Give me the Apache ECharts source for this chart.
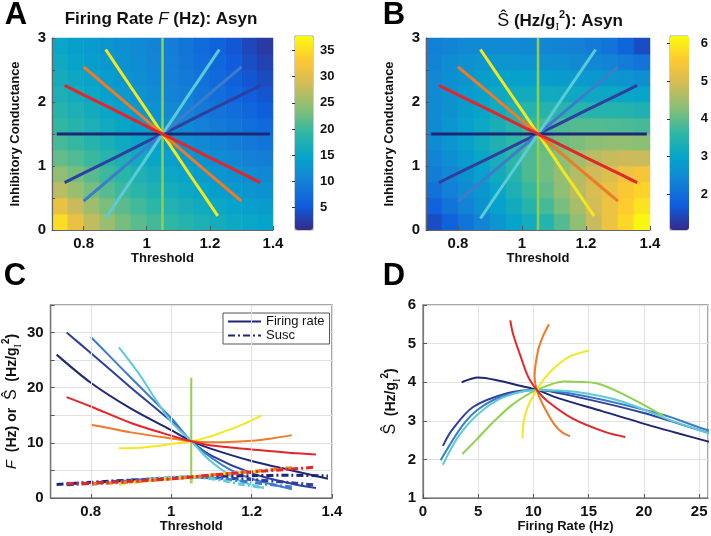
<!DOCTYPE html>
<html><head><meta charset="utf-8">
<script src="https://cdn.jsdelivr.net/npm/echarts@6/dist/echarts.min.js"></script>
<style>html,body{margin:0;padding:0;background:#fff}#c{width:711px;height:536px}</style>
</head><body><div id="c"></div>
<script>
// ---------- heatmap cells ----------
const thetaCells = [0.725,0.775,0.825,0.875,0.925,0.975,1.025,1.075,1.125,1.175,1.225,1.275,1.325,1.375];
const gCells = [0.125,0.375,0.625,0.875,1.125,1.375,1.625,1.875,2.125,2.375,2.625,2.875];
// rows from g=0.125 (bottom) to g=2.875 (top)
const rateGrid = [
 [35.0,31.0,27.5,25.0,23.0,21.5,20.3,19.2,18.2,17.2,16.4,15.6,15.0,14.5],
 [31.0,28.0,25.3,23.2,21.6,20.2,19.0,17.9,16.9,16.0,15.2,14.5,13.9,13.4],
 [27.0,25.0,23.0,21.3,19.9,18.7,17.5,16.5,15.5,14.6,13.8,13.1,12.5,12.0],
 [24.5,23.0,21.4,20.0,18.7,17.5,16.4,15.4,14.4,13.5,12.7,12.0,11.4,10.8],
 [22.0,21.0,19.7,18.4,17.2,16.0,14.9,13.9,13.0,12.2,11.4,10.7,10.0,9.5],
 [20.5,19.5,18.3,17.1,15.9,14.8,13.7,12.7,11.8,11.0,10.2,9.5,8.8,8.2],
 [19.3,18.3,17.2,16.0,14.9,13.8,12.8,11.8,10.9,10.0,9.2,8.4,7.6,6.9],
 [18.2,17.2,16.1,15.0,14.0,13.0,12.0,11.0,10.1,9.2,8.3,7.4,6.5,5.7],
 [17.2,16.2,15.2,14.2,13.2,12.3,11.4,10.4,9.5,8.5,7.5,6.5,5.5,4.6],
 [16.4,15.4,14.4,13.5,12.6,11.8,10.9,10.0,9.0,8.0,6.9,5.8,4.7,3.7],
 [15.7,14.7,13.8,13.0,12.2,11.4,10.6,9.7,8.7,7.6,6.5,5.3,4.0,2.9],
 [15.0,14.1,13.3,12.5,11.8,11.1,10.3,9.4,8.4,7.3,6.1,4.8,3.4,2.1]
];
const suscGrid = [
 [1.5,1.8,2.1,2.4,2.7,2.98,3.22,3.48,3.9,4.35,4.85,5.3,5.75,6.15],
 [1.8,2.1,2.4,2.65,2.9,3.2,3.5,3.8,4.15,4.55,4.95,5.3,5.6,5.9],
 [2.05,2.3,2.55,2.75,3.0,3.35,3.7,4.0,4.35,4.7,5.0,5.25,5.5,5.7],
 [2.25,2.45,2.65,2.9,3.2,3.5,3.85,4.12,4.4,4.65,4.9,5.1,5.3,5.45],
 [2.4,2.6,2.8,3.05,3.3,3.58,3.86,4.1,4.3,4.5,4.7,4.82,4.88,4.85],
 [2.5,2.7,2.93,3.18,3.4,3.6,3.82,3.98,4.1,4.2,4.3,4.35,4.35,4.3],
 [2.5,2.7,2.9,3.1,3.3,3.5,3.72,3.8,3.85,3.9,3.9,3.88,3.85,3.8],
 [2.5,2.65,2.85,3.0,3.2,3.38,3.48,3.5,3.52,3.52,3.5,3.48,3.45,3.4],
 [2.5,2.65,2.8,2.95,3.1,3.2,3.2,3.18,3.15,3.12,3.1,3.08,3.05,3.0],
 [2.45,2.6,2.7,2.85,2.95,2.95,2.9,2.86,2.82,2.8,2.78,2.74,2.68,2.6],
 [2.4,2.55,2.62,2.7,2.72,2.7,2.66,2.62,2.58,2.53,2.47,2.38,2.25,2.1],
 [2.3,2.4,2.48,2.5,2.5,2.48,2.45,2.42,2.38,2.32,2.24,2.1,1.85,1.5]
];

// ---------- tick labels ----------
const thresholdTicks = [0.8, 1, 1.2, 1.4];
const rateBarTicks = [5, 10, 15, 20, 25, 30, 35];
const suscBarTicks = [1, 2, 3, 4, 5, 6];

// ---------- lines through parameter space ----------
const thetaNavy = [0.715,0.80,0.90,1.00,1.05,1.10,1.20,1.30,1.39];
const gNavy = [1.5,1.5,1.5,1.5,1.5,1.5,1.5,1.5,1.5];
const rateNavy = [26.0,20.9,16.2,12.3,10.3,8.9,6.7,5.0,3.5];
const suscNavy = [2.45,2.85,3.25,3.58,3.8,3.9,4.05,4.12,4.0];

const thetaDarkBlue = [0.74,0.80,0.90,1.00,1.05,1.10,1.20,1.30,1.36];
const gDarkBlue = [0.74,0.89,1.13,1.38,1.5,1.62,1.87,2.11,2.26];
const rateDarkBlue = [30.0,26.3,20.0,13.9,10.3,7.7,4.5,2.6,1.8];
const suscDarkBlue = [2.4,2.65,3.2,3.62,3.8,3.72,3.35,2.75,2.35];

const thetaBlue = [0.80,0.85,0.90,1.00,1.05,1.10,1.15,1.20,1.30];
const gBlue = [0.45,0.66,0.87,1.29,1.5,1.71,1.92,2.13,2.55];
const rateBlue = [29.2,25.5,21.8,14.5,10.3,7.3,5.0,3.5,1.6];
const suscBlue = [2.5,2.78,3.15,3.65,3.8,3.65,3.3,2.85,1.98];

const thetaCyan = [0.87,0.92,0.96,1.00,1.05,1.09,1.13,1.17,1.23];
const gCyan = [0.18,0.55,0.84,1.13,1.5,1.79,2.09,2.38,2.82];
const rateCyan = [27.3,22.5,18.0,13.8,10.3,7.2,4.9,3.1,1.8];
const suscCyan = [2.55,3.0,3.5,3.75,3.8,3.6,3.15,2.55,1.86];

const thetaGreen = [1.05,1.05,1.05,1.05,1.05,1.05,1.05,1.05,1.05];
const gGreen = [0,0.375,0.75,1.125,1.5,1.875,2.25,2.625,3.0];
const rateGreen = [21.8,18.6,15.6,12.8,10.3,8.1,6.3,4.8,3.56];
const suscGreen = [3.12,3.62,3.98,4.02,3.8,3.42,2.95,2.5,2.14];

const thetaYellow = [0.87,0.92,0.96,1.00,1.05,1.09,1.13,1.18,1.225];
const gYellow = [2.82,2.45,2.16,1.87,1.5,1.21,0.91,0.55,0.22];
const rateYellow = [9.0,9.1,9.4,9.8,10.3,11.0,12.0,13.4,15.0];
const suscYellow = [2.55,2.95,3.3,3.55,3.8,4.1,4.4,4.68,4.82];

const thetaOrange = [0.80,0.85,0.90,1.00,1.05,1.10,1.20,1.25,1.30];
const gOrange = [2.55,2.34,2.13,1.71,1.5,1.29,0.87,0.66,0.45];
const rateOrange = [13.3,12.6,11.9,10.8,10.3,10.1,10.4,10.8,11.4];
const suscOrange = [2.6,2.7,2.9,3.45,3.8,4.15,4.8,5.15,5.5];

const thetaRed = [0.74,0.80,0.90,1.00,1.05,1.10,1.20,1.30,1.36];
const gRed = [2.26,2.11,1.87,1.62,1.5,1.38,1.13,0.89,0.74];
const rateRed = [18.3,16.6,13.6,11.3,10.3,9.5,8.8,8.15,7.9];
const suscRed = [2.58,2.7,3.05,3.5,3.8,4.15,4.7,5.25,5.6];

// ---------- styles ----------
const FONT = '"Liberation Sans", Arial, Helvetica, sans-serif';
const parula = ['#352a87','#0f5cdd','#1481d6','#06a4ca','#2eb7a4','#87bf77','#d1bb59','#fec832','#f9fb0e'];
const colors = {navy:'#1e2675', darkBlue:'#2f3f9e', blue:'#3d7ccc', cyan:'#5ccbd8', green:'#8fd14f', yellow:'#f2e81f', orange:'#ef7a28', red:'#e2262b'};

const lines = {
  navy:{theta:thetaNavy, g:gNavy, rate:rateNavy, susc:suscNavy},
  darkBlue:{theta:thetaDarkBlue, g:gDarkBlue, rate:rateDarkBlue, susc:suscDarkBlue},
  blue:{theta:thetaBlue, g:gBlue, rate:rateBlue, susc:suscBlue},
  cyan:{theta:thetaCyan, g:gCyan, rate:rateCyan, susc:suscCyan},
  green:{theta:thetaGreen, g:gGreen, rate:rateGreen, susc:suscGreen},
  yellow:{theta:thetaYellow, g:gYellow, rate:rateYellow, susc:suscYellow},
  orange:{theta:thetaOrange, g:gOrange, rate:rateOrange, susc:suscOrange},
  red:{theta:thetaRed, g:gRed, rate:rateRed, susc:suscRed}
};

function heatData(grid) {
  const out = [];
  grid.forEach((row, r) => row.forEach((v, c) => out.push([c, r, v])));
  return out;
}

const tickLabel = {fontFamily: FONT, fontWeight: 'bold', fontSize: 15, color: '#111'};
const nameStyle = {fontFamily: FONT, fontWeight: 'bold', fontSize: 13, color: '#111'};
const richSS = {
  i: {fontFamily: FONT, fontStyle: 'italic', fontWeight: 'normal', fontSize: 15, color:'#111'},
  s: {fontFamily: FONT, fontWeight: 'normal', fontSize: 16, color:'#111'},
  sub: {fontFamily: '"Liberation Serif", serif', fontWeight: 'normal', fontSize: 10, verticalAlign: 'bottom', lineHeight: 10, color:'#111'},
  sup: {fontFamily: FONT, fontWeight: 'bold', fontSize: 10, verticalAlign: 'top', lineHeight: 10, color:'#111'}
};

function catAxis(gi, data) { return {gridIndex: gi, type: 'category', data: data.map(String), show: false}; }

function thresholdAxis(gi, split) {
  return {gridIndex: gi, type: 'value', min: 0.7, max: 1.4, z: 10,
    axisLine: {show: true, onZero: false, lineStyle: {color: '#666', width: 1.2}},
    axisTick: {show: true, customValues: thresholdTicks, inside: true, length: 4, lineStyle: {color: '#555'}},
    axisLabel: Object.assign({customValues: thresholdTicks, margin: 6, formatter: v => String(v)}, tickLabel),
    splitLine: {show: split, lineStyle: {color: '#e2e2e2', width: 1}},
    name: 'Threshold', nameLocation: 'middle', nameGap: 20, nameTextStyle: nameStyle};
}
function gAxis(gi) {
  return {gridIndex: gi, type: 'value', min: 0, max: 3, interval: 0.5, z: 10,
    axisLine: {show: true, onZero: false, lineStyle: {color: '#666', width: 1.2}},
    axisTick: {show: true, inside: true, length: 3, lineStyle: {color: '#555'}},
    axisLabel: Object.assign({margin: 6, formatter: v => (Number.isInteger(v) ? String(v) : '')}, tickLabel),
    splitLine: {show: false},
    name: 'Inhibitory Conductance', nameLocation: 'middle', nameGap: 30, nameTextStyle: nameStyle};
}
function barAxis(gi, min, max, ticks, margin) {
  return {gridIndex: gi, type: 'value', position: 'right', min, max, z: 10,
    axisLine: {show: false},
    axisTick: {show: true, customValues: ticks, inside: true, length: 3, lineStyle: {color: '#333'}},
    axisLabel: Object.assign({}, tickLabel, {customValues: ticks, margin, fontSize: 13}),
    splitLine: {show: false}};
}

const series = [];
series.push({type: 'heatmap', name: 'rateMap', xAxisIndex: 0, yAxisIndex: 0, data: heatData(rateGrid), silent: true});
series.push({type: 'heatmap', name: 'suscMap', xAxisIndex: 2, yAxisIndex: 2, data: heatData(suscGrid), silent: true});

const orderAB = ['darkBlue','blue','cyan','green','navy','yellow','orange','red'];
[[1, 'A'], [3, 'B']].forEach(([ai, tag]) => {
  orderAB.forEach(k => {
    const L = lines[k];
    series.push({type: 'line', name: tag + k, xAxisIndex: ai, yAxisIndex: ai, symbol: 'none', silent: true,
      data: L.theta.map((t, i) => [t, L.g[i]]),
      lineStyle: {color: colors[k], width: k === 'green' ? 2.5 : 3}, itemStyle: {color: colors[k]}, z: 5});
  });
});

const orderC = ['navy','darkBlue','blue','cyan','green','yellow','orange','red'];
orderC.forEach(k => {
  const L = lines[k];
  series.push({type: 'line', name: k === 'navy' ? 'Firing rate' : 'F' + k, xAxisIndex: 6, yAxisIndex: 6, symbol: 'none', silent: true,
    smooth: 0.3, data: L.theta.map((t, i) => [t, L.rate[i]]),
    lineStyle: {color: colors[k], width: 2}, itemStyle: {color: colors[k]}});
});
orderC.forEach(k => {
  const L = lines[k];
  series.push({type: 'line', name: k === 'navy' ? 'Susc' : 'S' + k, xAxisIndex: 6, yAxisIndex: 6, symbol: 'none', silent: true,
    smooth: 0.3, data: L.theta.map((t, i) => [t, L.susc[i]]),
    lineStyle: {color: colors[k], width: 3, type: [7, 3, 2, 3]}, itemStyle: {color: colors[k]}});
});
['navy','darkBlue','blue','cyan','green','yellow','orange','red'].forEach(k => {
  const L = lines[k];
  series.push({type: 'line', name: 'D' + k, xAxisIndex: 7, yAxisIndex: 7, symbol: 'none', silent: true,
    smooth: 0.3, data: L.rate.map((f, i) => [f, L.susc[i]]),
    lineStyle: {color: colors[k], width: 2}, itemStyle: {color: colors[k]}});
});

const boxGrid = {show: true, borderColor: '#8a8a8a', borderWidth: 1.5, backgroundColor: 'transparent'};

function letter(t, x, y) {
  return {type: 'text', x, y, style: {text: t, fontFamily: FONT, fontWeight: 'bold', fontSize: 31, fill: '#000',
    align: 'center', verticalAlign: 'middle', textAlign: 'center', textVerticalAlign: 'middle'}};
}

const option = {
  animation: false,
  backgroundColor: '#fff',
  grid: [
    {left: 52, top: 38, width: 221, height: 192},
    {left: 52, top: 38, width: 221, height: 192},
    {left: 426, top: 38, width: 224, height: 192},
    {left: 426, top: 38, width: 224, height: 192},
    {left: 295, top: 36, width: 18, height: 194, show: true, borderColor: '#9a9a9a', borderWidth: 1},
    {left: 670, top: 36, width: 19, height: 194, show: true, borderColor: '#9a9a9a', borderWidth: 1},
    Object.assign({left: 49, top: 305, width: 283, height: 193}, boxGrid),
    Object.assign({left: 423, top: 305, width: 285, height: 193}, boxGrid)
  ],
  xAxis: [
    catAxis(0, thetaCells),
    thresholdAxis(1, false),
    catAxis(2, thetaCells),
    thresholdAxis(3, false),
    {gridIndex: 4, type: 'value', min: 0, max: 1, show: false},
    {gridIndex: 5, type: 'value', min: 0, max: 1, show: false},
    thresholdAxis(6, true),
    {gridIndex: 7, type: 'value', min: 0, max: 25.8, interval: 5,
      axisLine: {show: true, onZero: false, lineStyle: {color: '#777', width: 1.2}},
      axisTick: {show: true, inside: true, length: 4, lineStyle: {color: '#555'}},
      axisLabel: Object.assign({margin: 6, showMaxLabel: false}, tickLabel),
      splitLine: {show: true, lineStyle: {color: '#e2e2e2', width: 1}},
      name: 'Firing Rate (Hz)', nameLocation: 'middle', nameGap: 20, nameTextStyle: nameStyle}
  ],
  yAxis: [
    catAxis(0, gCells),
    gAxis(1),
    catAxis(2, gCells),
    gAxis(3),
    barAxis(4, 0.65, 37.8, rateBarTicks, 7),
    barAxis(5, 1.05, 6.2, suscBarTicks, 13),
    {gridIndex: 6, type: 'value', min: 0, max: 35, interval: 5,
      axisLine: {show: true, onZero: false, lineStyle: {color: '#777', width: 1.2}},
      axisTick: {show: true, inside: true, length: 4, lineStyle: {color: '#555'}},
      axisLabel: Object.assign({margin: 7, formatter: v => (v % 10 === 0 ? String(v) : '')}, tickLabel),
      splitLine: {show: true, lineStyle: {color: '#e2e2e2', width: 1}},
      name: '{i|F}  (Hz) or  {s|Ŝ}  (Hz/g{sub|I}{sup|2})', nameLocation: 'middle', nameGap: 22,
      nameTextStyle: Object.assign({}, nameStyle, {fontSize: 14, lineHeight: 22, rich: richSS})},
    {gridIndex: 7, type: 'value', min: 1, max: 6, interval: 1,
      axisLine: {show: true, onZero: false, lineStyle: {color: '#777', width: 1.2}},
      axisTick: {show: true, inside: true, length: 4, lineStyle: {color: '#555'}},
      axisLabel: Object.assign({margin: 7}, tickLabel),
      splitLine: {show: true, lineStyle: {color: '#e2e2e2', width: 1}},
      name: '{s|Ŝ}  (Hz/g{sub|I}{sup|2})', nameLocation: 'middle', nameGap: 21,
      nameTextStyle: Object.assign({}, nameStyle, {fontSize: 14, lineHeight: 22, rich: richSS})}
  ],
  visualMap: [
    {type: 'continuous', seriesIndex: 0, min: 0.65, max: 37.8, calculable: false, show: true,
      left: 295, top: 36, itemWidth: 18, itemHeight: 194, padding: 0, text: null, inRange: {color: parula}},
    {type: 'continuous', seriesIndex: 1, min: 1.05, max: 6.2, calculable: false, show: true,
      left: 670, top: 36, itemWidth: 19, itemHeight: 194, padding: 0, text: null, inRange: {color: parula}}
  ],
  legend: {data: ['Firing rate', 'Susc'], left: 223, top: 313, orient: 'vertical', itemGap: 1,
    itemWidth: 33, itemHeight: 12, padding: [2, 5, 2, 4], borderColor: '#555', borderWidth: 1,
    backgroundColor: '#fff', selectedMode: false, itemStyle: {opacity: 0},
    textStyle: {fontFamily: FONT, fontSize: 13, color: '#111'}},
  graphic: [
    letter('A', 16, 15), letter('B', 394, 15), letter('C', 15, 276), letter('D', 394, 276),
    {type: 'text', x: 161, y: 19, style: {text: 'Firing Rate {i|F} (Hz): Asyn', fontFamily: FONT, fontWeight: 'bold', fontSize: 17, fill: '#111',
      align: 'center', verticalAlign: 'middle', textAlign: 'center', textVerticalAlign: 'middle',
      rich: {i: {fontFamily: FONT, fontStyle: 'italic', fontWeight: 'normal', fontSize: 17, fill: '#111'}}}},
    {type: 'text', x: 560, y: 21, style: {text: '{s|Ŝ} (Hz/g{sub|I}{sup|2}): Asyn', fontFamily: FONT, fontWeight: 'bold', fontSize: 17, lineHeight: 24, fill: '#111',
      align: 'center', verticalAlign: 'middle', textAlign: 'center', textVerticalAlign: 'middle',
      rich: {s: {fontFamily: FONT, fontWeight: 'normal', fontSize: 18, fill: '#111'},
             sub: {fontFamily: '"Liberation Serif", serif', fontWeight: 'normal', fontSize: 11, verticalAlign: 'bottom', lineHeight: 11, fill: '#111'},
             sup: {fontFamily: FONT, fontWeight: 'bold', fontSize: 11, verticalAlign: 'top', lineHeight: 11, fill: '#111'}}}}
  ],
  series
};

const chart = echarts.init(document.getElementById('c'), null, {renderer: 'canvas'});
chart.setOption(option);
</script>
</body></html>
